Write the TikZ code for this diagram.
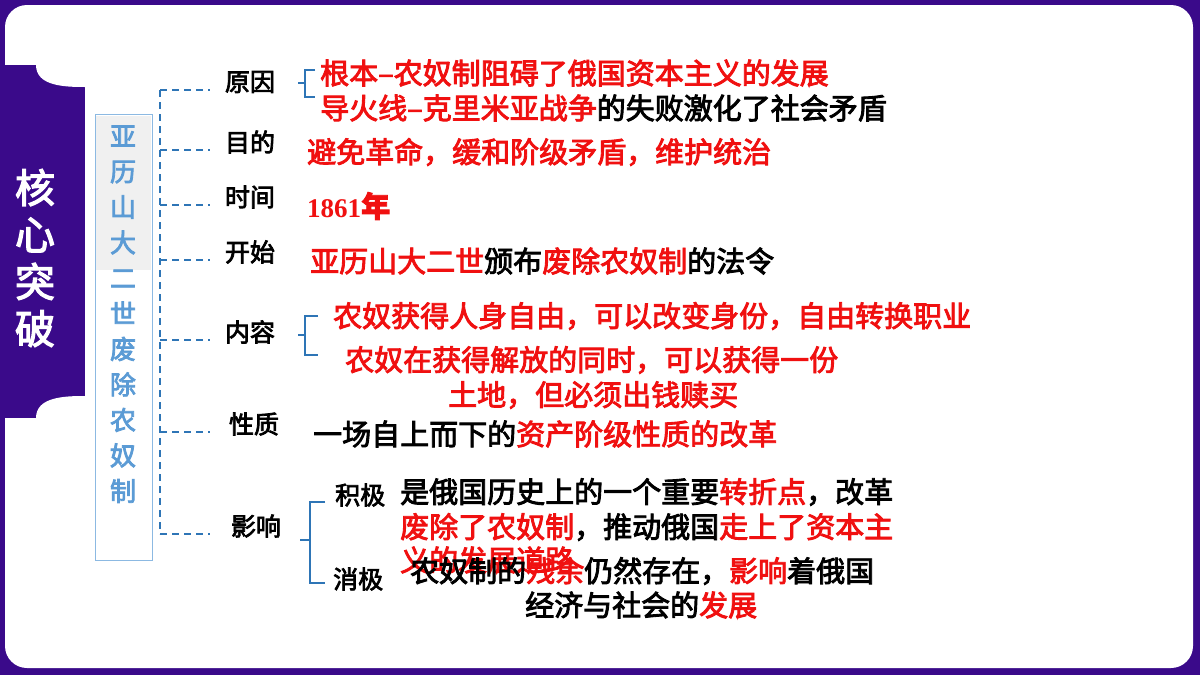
\documentclass[tikz,border=0pt]{standalone}
\usepackage{fontspec}
\setmainfont{Liberation Serif}
\newfontfamily\cjk[FakeBold=3]{Noto Sans CJK SC}
\usetikzlibrary{positioning}
\definecolor{kpurple}{HTML}{3A0A8A}
\definecolor{kblue}{HTML}{2E75B6}
\definecolor{kltblue}{HTML}{5B9BD5}
\definecolor{kred}{HTML}{F01010}
\newcommand{\rd}[1]{\textcolor{kred}{#1}}
\begin{document}
\begin{tikzpicture}[x=1pt,y=-1pt,
  lbl/.style={font=\cjk\fontsize{25}{26}\selectfont,text=black,inner sep=0pt},
  txt/.style={font=\cjk\fontsize{29}{31}\selectfont,text=black,inner sep=0pt,anchor=west},
  branch/.style={draw=kblue,dashed,dash pattern=on 7pt off 5pt,line width=1.3pt},
  brk/.style={draw=kblue,line width=1.3pt}]
\useasboundingbox (0,0) rectangle (1200,675);
% frame
\fill[kpurple] (0,0) rectangle (1200,675);
\fill[white,rounded corners=22pt] (5,5) rectangle (1193,668);
% side tab
\fill[kpurple] (0,65) rectangle (85,418);
\fill[white] (85,65) -- (85,87) to[out=180,in=-90] (36,65) -- cycle;
\fill[white] (85,418) -- (85,396) to[out=180,in=90] (36,418) -- cycle;
\node[font=\cjk\fontsize{40}{47}\selectfont,text=white,align=center] (title) at (35,258) {核\\心\\突\\破};
% vertical box
\fill[black!6] (96,116) rectangle (151,270);
\draw[kltblue!70,line width=0.8pt] (95,114) rectangle (152,560);
\node[font=\cjk\fontsize{26}{35.5}\selectfont,text=kltblue,align=center,anchor=north] (topic) at (123,122)
  {亚\\历\\山\\大\\二\\世\\废\\除\\农\\奴\\制};
% trunk and labels
\coordinate (top) at (160,90);
\coordinate (bot) at (160,534);
\draw[branch] (top) -- (bot);
\foreach \y/\nm/\t/\lx in {90/yy/原因/250,150/md/目的/250,205/sj/时间/250,260/ks/开始/250,340/nr/内容/250,432/xz/性质/254,534/yx/影响/256}{
  \draw[branch] (160,\y) -- (210,\y);
  \node[lbl] (\nm) at (\lx,\y-8) {\t};
}
% brackets
\draw[brk] (298,83) -- (305,83) (315,70) -- (305,70) -- (305,97) -- (315,97);
\draw[brk] (298,335) -- (305,335) (318,316) -- (305,316) -- (305,355) -- (318,355);
\draw[brk] (300,540) -- (310,540) (325,502) -- (310,502) -- (310,583) -- (325,583);
% contents
\node[txt] (y1) at (320,73) {\rd{根本–农奴制阻碍了俄国资本主义的发展}};
\node[txt] (y2) at (320,108) {\rd{导火线–克里米亚战争}的失败激化了社会矛盾};
\node[txt] (m1) at (307,152) {\rd{避免革命，缓和阶级矛盾，维护统治}};
\node[txt,font=\bfseries\fontsize{27}{30}\selectfont] (s1) at (307,206) {\rd{1861\cjk\fontsize{29}{31}\selectfont 年}};
\node[txt] (k1) at (310,261) {\rd{亚历山大二世}颁布\rd{废除农奴制}的法令};
\node[txt] (n1) at (333,316) {\rd{农奴获得人身自由，可以改变身份，自由转换职业}};
\node[txt] (n2) at (345,360) {\rd{农奴在获得解放的同时，可以获得一份}};
\node[txt] (n3) at (448,395) {\rd{土地，但必须出钱赎买}};
\node[txt] (x1) at (313,434) {一场自上而下的\rd{资产阶级性质的改革}};
\node[lbl,anchor=west] (jj) at (335,495) {积极};
\node[txt] (j1) at (400,492) {是俄国历史上的一个重要\rd{转折点}，改革};
\node[txt] (j2) at (400,527) {\rd{废除了农奴制}，推动俄国\rd{走上了资本主}};
\node[txt] (j3) at (400,560) {\rd{义的发展道路}};
\node[lbl,anchor=west] (xj) at (333,579) {消极};
\node[txt] (q1) at (410,571) {农奴制的\rd{残余}仍然存在，\rd{影响}着俄国};
\node[txt] (q2) at (525,605) {经济与社会的\rd{发展}};
\end{tikzpicture}
\end{document}
